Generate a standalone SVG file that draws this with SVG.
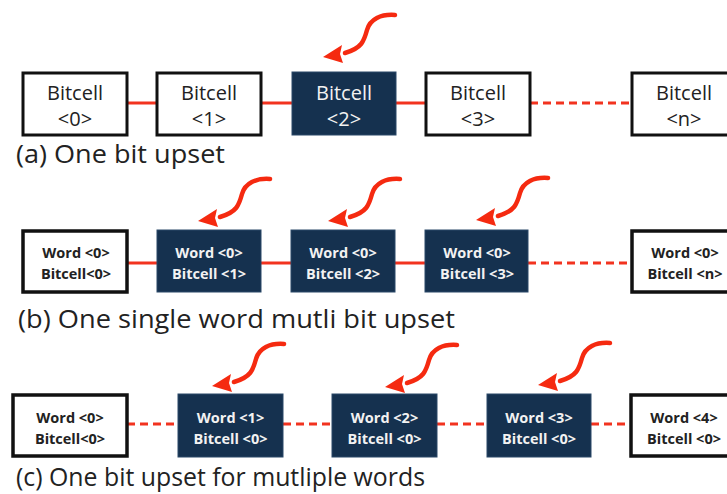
<svg xmlns="http://www.w3.org/2000/svg" xmlns:xlink="http://www.w3.org/1999/xlink" width="727" height="494" viewBox="0 0 727 494">
<style>
.w{fill:#fff;stroke:#111;stroke-width:3}
.d{fill:#15314f;stroke:#2a4868;stroke-width:1}
.t{font-family:"Open Sans","Liberation Sans",sans-serif;font-size:20px;text-anchor:middle;fill:#222}
.tb{font-family:"Open Sans","Liberation Sans",sans-serif;font-size:14.5px;font-weight:bold;text-anchor:middle;fill:#222}
.t.tl,.tb.tl{fill:#f2f2f2}
.cap{font-family:"Open Sans","Liberation Sans",sans-serif;font-size:26px;fill:#222}
.c{stroke:#f2331f;stroke-width:3;fill:none}
.dash{stroke-dasharray:8 5}
</style>
<defs>
<g id="arr">
<path d="M0,0 C-14,-1 -25,4 -28,15 C-31,26 -33,33 -50,38" fill="none" stroke="#f52a10" stroke-width="4.5" stroke-linecap="round"/>
<polygon points="-72,42 -53,30 -55,39 -52,48" fill="#f52a10"/>
</g>
</defs>
<g id="connectors">
<line class="c" x1="127" y1="103" x2="157" y2="103"/>
<line class="c" x1="261" y1="103" x2="292" y2="103"/>
<line class="c" x1="396" y1="103" x2="426" y2="103"/>
<line class="c dash" x1="530" y1="103" x2="632" y2="103"/>
<line class="c" x1="127" y1="263" x2="157" y2="263"/>
<line class="c" x1="261" y1="263" x2="291" y2="263"/>
<line class="c" x1="395" y1="263" x2="425" y2="263"/>
<line class="c dash" x1="528" y1="263" x2="632" y2="263"/>
<line class="c dash" x1="127" y1="424" x2="178" y2="424"/>
<line class="c dash" x1="283" y1="424" x2="332" y2="424"/>
<line class="c dash" x1="437" y1="424" x2="487" y2="424"/>
<line class="c dash" x1="591" y1="424" x2="630" y2="424"/>
</g>
<g id="upsets">
<use xlink:href="#arr" transform="translate(395,15)"/>
<use xlink:href="#arr" transform="translate(270,179)"/>
<use xlink:href="#arr" transform="translate(400,179)"/>
<use xlink:href="#arr" transform="translate(548,178)"/>
<use xlink:href="#arr" transform="translate(284,344)"/>
<use xlink:href="#arr" transform="translate(457,345)"/>
<use xlink:href="#arr" transform="translate(610,343)"/>
</g>
<g id="a0"><rect class="w" x="23" y="73" width="104" height="62"/><text class="t" x="75" y="100">Bitcell</text><text class="t" x="75" y="126">&lt;0&gt;</text></g>
<g id="a1"><rect class="w" x="157" y="73" width="104" height="62"/><text class="t" x="209" y="100">Bitcell</text><text class="t" x="209" y="126">&lt;1&gt;</text></g>
<g id="a2"><rect class="d" x="292" y="72" width="104" height="63"/><text class="t tl" x="344" y="100">Bitcell</text><text class="t tl" x="344" y="126">&lt;2&gt;</text></g>
<g id="a3"><rect class="w" x="426" y="73" width="104" height="62"/><text class="t" x="478" y="100">Bitcell</text><text class="t" x="478" y="126">&lt;3&gt;</text></g>
<g id="an"><rect class="w" x="632" y="73" width="104" height="62"/><text class="t" x="684" y="100">Bitcell</text><text class="t" x="684" y="126">&lt;n&gt;</text></g>
<text class="cap" x="16" y="163" textLength="209" lengthAdjust="spacingAndGlyphs">(a) One bit upset</text>
<g id="b0"><rect class="w" x="23" y="231" width="104" height="61" style="stroke-width:3.5"/><text class="tb" x="76" y="258">Word &lt;0&gt;</text><text class="tb" x="76" y="279">Bitcell&lt;0&gt;</text></g>
<g id="b1"><rect class="d" x="157" y="230" width="104" height="62"/><text class="tb tl" x="209" y="258">Word &lt;0&gt;</text><text class="tb tl" x="209" y="279">Bitcell &lt;1&gt;</text></g>
<g id="b2"><rect class="d" x="291" y="230" width="104" height="62"/><text class="tb tl" x="343" y="258">Word &lt;0&gt;</text><text class="tb tl" x="343" y="279">Bitcell &lt;2&gt;</text></g>
<g id="b3"><rect class="d" x="425" y="230" width="103" height="62"/><text class="tb tl" x="477" y="258">Word &lt;0&gt;</text><text class="tb tl" x="477" y="279">Bitcell &lt;3&gt;</text></g>
<g id="bn"><rect class="w" x="632" y="231" width="104" height="61" style="stroke-width:3.5"/><text class="tb" x="685" y="258">Word &lt;0&gt;</text><text class="tb" x="685" y="279">Bitcell &lt;n&gt;</text></g>
<text class="cap" x="18" y="328" textLength="437" lengthAdjust="spacingAndGlyphs">(b) One single word mutli bit upset</text>
<g id="c0"><rect class="w" x="13" y="395" width="114" height="61" style="stroke-width:3.5"/><text class="tb" x="70" y="423">Word &lt;0&gt;</text><text class="tb" x="70" y="444">Bitcell&lt;0&gt;</text></g>
<g id="c1"><rect class="d" x="178" y="394" width="105" height="63"/><text class="tb tl" x="230.5" y="423">Word &lt;1&gt;</text><text class="tb tl" x="230.5" y="444">Bitcell &lt;0&gt;</text></g>
<g id="c2"><rect class="d" x="332" y="394" width="105" height="63"/><text class="tb tl" x="384.5" y="423">Word &lt;2&gt;</text><text class="tb tl" x="384.5" y="444">Bitcell &lt;0&gt;</text></g>
<g id="c3"><rect class="d" x="487" y="394" width="104" height="63"/><text class="tb tl" x="539" y="423">Word &lt;3&gt;</text><text class="tb tl" x="539" y="444">Bitcell &lt;0&gt;</text></g>
<g id="c4"><rect class="w" x="631" y="395" width="104" height="61" style="stroke-width:3.5"/><text class="tb" x="684" y="423">Word &lt;4&gt;</text><text class="tb" x="684" y="444">Bitcell &lt;0&gt;</text></g>
<text class="cap" x="16" y="486" textLength="409" lengthAdjust="spacingAndGlyphs">(c) One bit upset for mutliple words</text>
</svg>
